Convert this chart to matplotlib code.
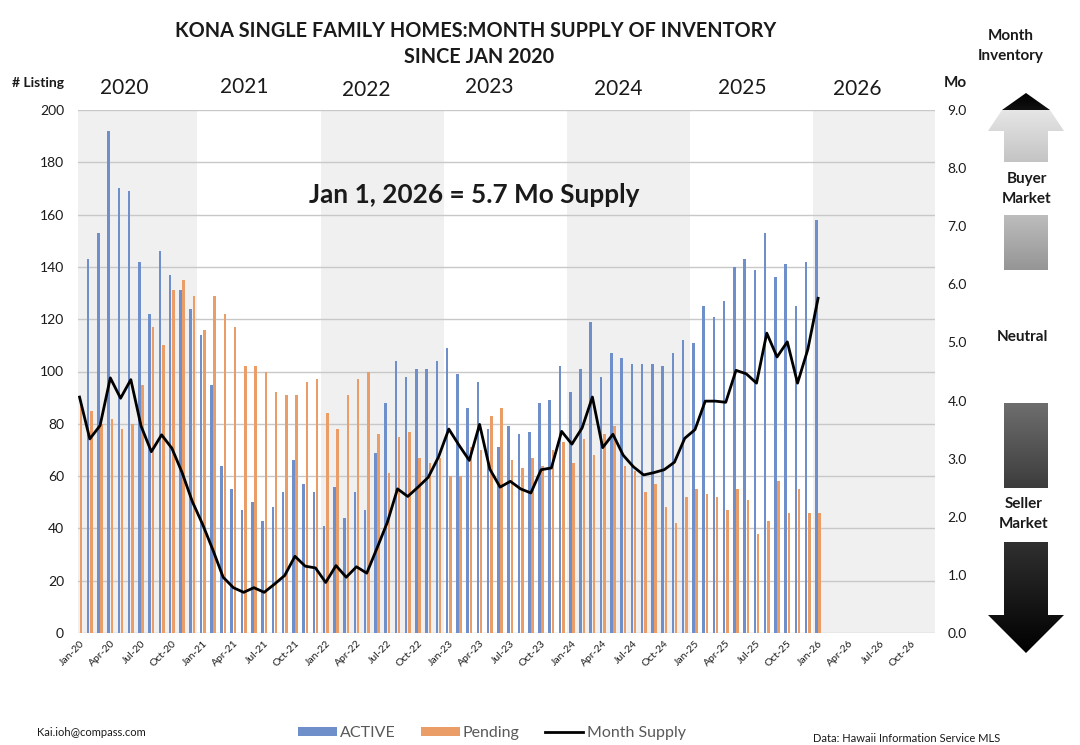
import numpy as np
import matplotlib
matplotlib.use('Agg')
import matplotlib.pyplot as plt
from matplotlib.patches import Polygon, Patch
from matplotlib.lines import Line2D
from matplotlib.colors import LinearSegmentedColormap
import matplotlib.transforms as mtransforms

plt.rcParams['font.family'] = ['Lato', 'DejaVu Sans']

# =============================================================================
# Data  (Jan-20 .. Jan-26, one value per month)
# =============================================================================
active = [np.nan, 143, 153, 192, 170, 169, 142, 122, 146, 137, 131, 124,
          114, 95, 64, 55, 47, 50, 43, 48, 54, 66, 57, 54,
          41, 56, 44, 54, 47, 69, 88, 104, 98, 101, 101, 104,
          109, 99, 86, 96, 78, 71, 79, 76, 77, 88, 89, 102,
          92, 101, 119, 98, 107, 105, 103, 103, 103, 102, 107, 112,
          111, 125, 121, 127, 140, 143, 139, 153, 136, 141, 125, 142,
          158]
pending = [87, 85, 80, 82, 78, 80, 95, 117, 110, 131, 135, 129,
           116, 129, 122, 117, 102, 102, 100, 92, 91, 91, 96, 97,
           84, 78, 91, 97, 100, 76, 61, 75, 77, 67, 65, 67,
           60, 60, 71, 70, 83, 86, 66, 63, 67, 64, 70, 73,
           65, 74, 68, 76, 79, 64, 62, 54, 57, 48, 42, 52,
           55, 53, 52, 47, 55, 51, 38, 43, 58, 46, 55, 46,
           46]
month_supply = [4.06, 3.34, 3.57, 4.39, 4.04, 4.36, 3.56, 3.12, 3.41, 3.18, 2.76, 2.26,
                1.87, 1.43, 0.96, 0.78, 0.70, 0.78, 0.70, 0.84, 0.99, 1.32, 1.15, 1.12,
                0.87, 1.16, 0.96, 1.14, 1.03, 1.46, 1.90, 2.48, 2.35, 2.51, 2.68, 3.03,
                3.51, 3.23, 2.97, 3.59, 2.82, 2.51, 2.61, 2.48, 2.41, 2.81, 2.84, 3.47,
                3.25, 3.53, 4.06, 3.19, 3.42, 3.06, 2.86, 2.72, 2.76, 2.81, 2.94, 3.35,
                3.50, 3.99, 3.99, 3.97, 4.52, 4.46, 4.30, 5.16, 4.75, 5.01, 4.30, 4.88,
                5.76]

years        = ['2020', '2021', '2022', '2023', '2024', '2025', '2026']
tick_months  = ['Jan', 'Apr', 'Jul', 'Oct']
shaded_years = ['2020', '2022', '2024', '2026']

# =============================================================================
# Style
# =============================================================================
BLUE   = '#6f8fca'
ORANGE = '#eb9d68'
SHADE  = '#f0f0f0'
GRID   = '#c8c8c8'
TXT    = '#1a1a1a'

W, H = 1080, 745
fig = plt.figure(figsize=(W / 100, H / 100), dpi=100)
fig.patch.set_facecolor('white')

L, R, B, T = 78, 935, 633, 110
ax = fig.add_axes([L / W, 1 - B / H, (R - L) / W, (B - T) / H])

x = np.arange(len(pending))
n_months = 12 * len(years)

# year shading
for yr in shaded_years:
    i = years.index(yr)
    ax.axvspan(12 * i - 0.5, 12 * i + 11.5, color=SHADE, lw=0, zorder=0)

ax.bar(x - 0.16, active, width=0.25, color=BLUE, zorder=2)
ax.bar(x + 0.16, pending, width=0.25, color=ORANGE, zorder=2)

ax.set_xlim(-0.15, n_months - 0.6)
ax.set_ylim(0, 200)
ax.set_yticks(np.arange(0, 201, 20))
ax.yaxis.grid(True, color=GRID, lw=1)
ax.set_axisbelow(True)
for s in ax.spines.values():
    s.set_visible(False)
ax.tick_params(axis='y', length=0, pad=10, labelsize=10, labelcolor=TXT)

tick_pos = np.arange(0, n_months, 3)
tick_labels = [f'{m}-{y[2:]}' for y in years for m in tick_months]
ax.set_xticks(tick_pos)
ax.set_xticklabels(tick_labels, rotation=45, ha='right', rotation_mode='anchor',
                   fontsize=7.5, color=TXT)
ax.tick_params(axis='x', length=0, pad=4)

ax2 = ax.twinx()
ax2.plot(x, month_supply, color='black', lw=2, zorder=3)
ax2.set_ylim(0, 9)
ax2.set_yticks(np.arange(0, 9.1, 1))
ax2.set_yticklabels([f'{v:.1f}' for v in np.arange(0, 9.1, 1)])
ax2.tick_params(axis='y', length=0, pad=9, labelsize=10, labelcolor=TXT)
for s in ax2.spines.values():
    s.set_visible(False)

# year labels above plot
trans = mtransforms.blended_transform_factory(ax.transData, ax.transAxes)
year_x = [4.4, 16.1, 28.0, 39.9, 52.5, 64.6, 75.8]
year_y = [1.023, 1.025, 1.019, 1.025, 1.021, 1.023, 1.021]
for yr, xx, yy in zip(years, year_x, year_y):
    ax.text(xx, yy, yr, transform=trans, ha='center', va='bottom', fontsize=15, color=TXT)

ax.text(0.462, 0.838, 'Jan 1, 2026 = 5.7 Mo Supply', transform=ax.transAxes,
        ha='center', va='center', fontsize=18.8, fontweight='bold', color=TXT)

# titles and side labels
fig.text(476 / W, 1 - 31 / H, 'KONA SINGLE FAMILY HOMES:MONTH SUPPLY OF INVENTORY',
         ha='center', va='center', fontsize=14.3, fontweight='bold', color=TXT)
fig.text(479 / W, 1 - 57 / H, 'SINCE JAN 2020', ha='center', va='center',
         fontsize=14.3, fontweight='bold', color=TXT)
fig.text(12 / W, 1 - 83 / H, '# Listing', ha='left', va='center', fontsize=10,
         fontweight='bold', color=TXT)
fig.text(944 / W, 1 - 83 / H, 'Mo', ha='left', va='center', fontsize=11,
         fontweight='bold', color=TXT)
fig.text(1011 / W, 1 - 46 / H, 'Month\nInventory', ha='center', va='center',
         fontsize=11, fontweight='bold', color=TXT, linespacing=1.6)
fig.text(1027 / W, 1 - 189 / H, 'Buyer\nMarket', ha='center', va='center',
         fontsize=11, fontweight='bold', color=TXT, linespacing=1.6)
fig.text(1022 / W, 1 - 337 / H, 'Neutral', ha='center', va='center',
         fontsize=11, fontweight='bold', color=TXT)
fig.text(1024 / W, 1 - 514 / H, 'Seller\nMarket', ha='center', va='center',
         fontsize=11, fontweight='bold', color=TXT, linespacing=1.6)
fig.text(37 / W, 1 - 733 / H, 'Kai.ioh@compass.com', ha='left', va='center',
         fontsize=8, color=TXT)
fig.text(813 / W, 1 - 739 / H, 'Data: Hawaii Information Service MLS', ha='left',
         va='center', fontsize=8, color=TXT)

# legend
handles = [Patch(facecolor=BLUE, edgecolor='none'),
           Patch(facecolor=ORANGE, edgecolor='none'),
           Line2D([], [], color='black', lw=2)]
fig.legend(handles, ['ACTIVE', 'Pending', 'Month Supply'], loc='center',
           bbox_to_anchor=(492 / W, 1 - 733 / H), ncol=3, frameon=False,
           fontsize=11.5, labelcolor='#595959', handlelength=2.4,
           handleheight=0.5, columnspacing=1.6, handletextpad=0.2)

# right-hand market scale graphics (pixel coordinates)
axd = fig.add_axes([0, 0, 1, 1])
axd.set_axis_off()


def grad_shape(verts, c_top, c_bot):
    poly = Polygon(verts, closed=True, facecolor='none', edgecolor='none')
    axd.add_patch(poly)
    xs, ys = zip(*verts)
    g = np.linspace(0, 1, 256).reshape(-1, 1)
    cmap = LinearSegmentedColormap.from_list('g', [c_top, c_bot])
    im = axd.imshow(g, cmap=cmap, aspect='auto', origin='upper',
                    extent=(min(xs), max(xs), max(ys), min(ys)))
    im.set_clip_path(poly)


cx, sw, hw = 1026, 22, 38
grad_shape([(cx, 93), (cx + 24, 110), (cx - 24, 110)], '#000000', '#111111')
grad_shape([(cx - 24, 110), (cx + 24, 110), (cx + hw, 131), (cx + sw, 131),
            (cx + sw, 162), (cx - sw, 162), (cx - sw, 131), (cx - hw, 131)],
           '#e6e6e6', '#c4c4c4')
grad_shape([(cx - sw, 215), (cx + sw, 215), (cx + sw, 270), (cx - sw, 270)],
           '#bdbdbd', '#959595')
grad_shape([(cx - sw, 403), (cx + sw, 403), (cx + sw, 488), (cx - sw, 488)],
           '#6e6e6e', '#3c3c3c')
grad_shape([(cx - sw, 542), (cx + sw, 542), (cx + sw, 615), (cx + hw, 615),
            (cx, 653), (cx - hw, 615), (cx - sw, 615)],
           '#303030', '#000000')
axd.set_xlim(0, W)
axd.set_ylim(H, 0)

fig.savefig('out.png', dpi=100)
